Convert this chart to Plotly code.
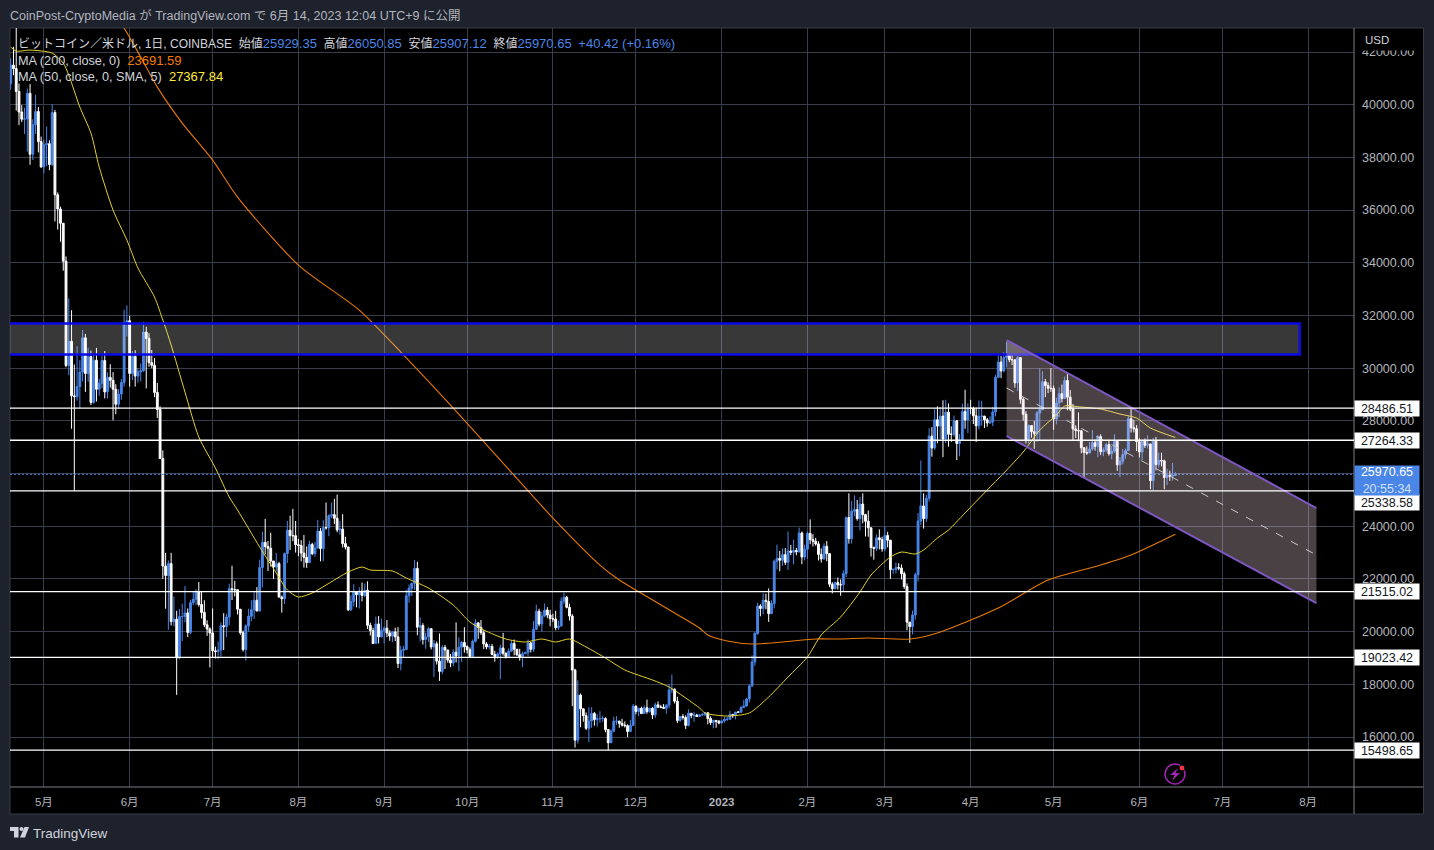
import pandas as pd
import plotly.graph_objects as go

FIRST_OPEN = 40800
closes_2022 = [
 41500,41370,40500,39720,39450,39460,40430,38120,39240,39740,38600,37640,
 38480,38520,37730,39700,36580,36040,35500,34060,30100,31020,28950,28920,29300,29850,31150,29800,30440,28700,30300,29200,29430,30290,29100,29650,29540,29200,28630,29020,29450,31730,31800,
 29800,30450,29700,29860,29900,31370,31130,30210,30110,29080,28430,26570,22490,22130,22580,20380,20470,19000,20570,20570,20710,19970,21100,21230,21500,21030,20730,20260,20100,19950,
 19270,19240,19300,20220,20190,20550,21630,21590,21590,20850,19960,19320,20220,20580,20830,21190,20780,22430,23390,23230,23160,22680,22450,22580,21310,21250,22960,23850,23640,23640,23300,
 23270,22980,22820,22620,23310,22960,23170,23810,23150,23950,23940,24400,24440,24300,23860,23890,23340,23210,20830,21140,21520,21400,21530,21370,21570,20240,20040,19550,20290,19800,20050,
 20130,19950,19830,19990,19800,18790,19290,19320,21360,21650,21830,22400,20170,20230,19700,19800,20110,19420,19540,18880,18490,19400,19300,18920,18810,19220,19080,19410,19590,19430,
 19310,19060,19630,20330,20160,19960,19530,19420,19440,19130,19060,19150,19380,19180,19060,19260,19550,19330,19120,19040,19160,19200,19570,19330,20090,20770,20290,20590,20820,20630,20490,
 20480,20150,20210,21150,21300,20920,20590,18540,15880,17590,17070,16810,16330,16610,16890,16660,16690,16700,16700,16280,15780,16220,16600,16600,16520,16450,16430,16210,16440,17170,
 16970,17090,16890,17110,16970,17090,16840,17220,17130,17130,17090,17210,17780,17810,17360,16630,16780,16740,16440,16900,16820,16830,16780,16840,16840,16920,16700,16550,16630,16600,16530]
closes_2023 = [
 16610,16670,16670,16850,16830,16950,16940,17120,17180,17440,17940,18850,19930,20970,20880,21190,21140,20680,21070,22670,22780,22710,22920,22630,23060,23010,23080,23030,23740,22830,23130,
 23730,23490,23430,23330,22930,22760,23240,22960,21800,21630,21860,21780,21780,22200,24330,23530,24570,24630,24290,24840,24440,24190,23940,23190,23160,23560,23490,23140,
 23650,23470,22350,22360,22430,22410,22200,21710,20360,20190,20630,22160,24200,24770,24290,25060,27420,26970,28040,27800,28180,27310,28330,27490,27490,28000,27140,27270,28350,28030,28480,
 28470,28190,27810,28170,28180,28040,27920,27950,28340,29650,30230,29890,30400,30490,30320,30320,29440,30400,28820,28250,27270,27820,27590,27510,28300,28420,29480,29340,29240,29230,
 28070,28680,29030,28850,29530,28900,28450,27690,27630,27620,26980,26800,26780,26930,27170,27030,27400,26830,26890,27100,26750,26850,27220,26330,26470,26720,26870,28080,27740,27700,27210,
 26820,27250,27070,27120,25730,27230,26340,26500,26480,25850,25930,25900,25930,25970.65]
highs_2022 = [
 41760,42200,42980,40800,39980,39880,40610,40780,39450,40380,39910,38790,
 38670,39170,38650,40020,39800,36670,36130,35510,34240,32650,32200,30140,30830,30300,31450,31300,30780,30670,30530,30770,29600,30480,30650,29840,30150,29850,29390,29200,29590,32220,32380,
 31990,30650,30680,30000,30180,31760,31570,31330,30690,30380,29440,28550,26880,22990,22700,22990,21330,20790,20860,21060,21730,20880,21210,21530,21610,21880,21510,21190,20430,20160,
 20880,19430,19620,20350,20700,20670,21820,22500,21930,21600,20860,20040,20270,20870,21190,21550,21690,22730,23800,24280,23440,23750,22680,22990,22650,21370,23000,24200,24400,24660,24200,
 23520,23470,23670,23230,23450,23370,23400,24240,23930,24230,24900,24450,24900,25040,25200,24200,24460,23600,23220,21380,21800,21520,21680,21860,21820,21910,20340,20150,20570,20590,20490,
 20200,20440,20050,20030,20150,20170,19460,19450,21590,21790,21860,22720,22650,20540,20320,19960,20170,20100,19680,19630,19930,19480,19490,19310,19150,19330,20350,19780,19640,20170,
 19480,19400,19700,20470,20370,20440,20050,19600,19530,19530,19270,19210,19500,19950,19210,19360,19680,19700,19340,19350,19240,19250,19700,19600,20400,21020,20870,20750,21070,20930,20830,
 20680,20790,20420,21300,21480,21360,21060,20670,18590,18150,17650,17060,16930,17130,17130,16950,16870,16980,16810,16750,16300,16290,16770,16790,16620,16690,16590,16480,16650,17250,
 17200,17100,17150,17200,17420,17100,17130,17300,17350,17220,17250,17240,18000,18370,17850,17530,16800,16870,16820,17050,16900,16950,16880,16870,16920,16950,16930,16780,16660,16630,16640]
highs_2023 = [
 16630,16770,16770,16990,16880,16950,16980,17170,17400,17490,18000,19100,19980,21100,21040,21460,21440,21640,21190,22730,23300,23060,23160,23170,23800,23290,23490,23180,23950,23800,23300,
 23800,24260,23700,23560,23430,23160,23350,23440,22980,21880,21900,22050,21980,22320,24370,25250,24960,25170,25000,25120,25250,24470,24600,23880,23230,23690,23880,23600,
 24000,23790,23480,22400,22620,22600,22550,22280,21830,20350,20800,22240,24500,26500,25250,25190,27720,27760,28470,28550,28530,28780,28800,28660,27790,28200,28030,27500,28650,29180,28660,
 28800,28540,28500,28770,28760,28190,28110,28170,28530,29750,30550,30460,30600,31000,30560,30530,30320,30480,30410,28900,28370,27860,27820,28000,28370,30000,29880,29590,29460,30000,
 29340,28880,29270,29380,29680,29850,29170,28640,27830,28320,27660,26890,27030,27200,27650,27290,27470,27490,26990,27170,27280,27050,27490,27220,26630,26930,26950,28200,28450,28040,27840,
 27340,27300,27330,27450,27130,27350,27390,26800,26790,26530,26180,26110,26400,26050.85]
lows_2022 = [
 40570,41120,39780,39230,39340,38890,38220,37720,37900,38890,38190,37600,
 37390,37670,37510,37670,35570,35260,34800,33700,30030,29730,27700,25338.58,28770,28480,29500,29100,29480,28600,28650,28730,28950,29240,28850,28850,29260,28020,28250,28450,28800,29300,31200,
 29300,29550,29300,29450,29500,29860,29230,30050,30000,28900,28110,26600,22000,20870,20070,20230,20200,17600,18950,19640,20350,19790,19900,21000,21000,20950,20500,20170,19840,18640,
 19000,18980,18950,19050,19300,19790,20240,21200,21340,20650,19880,19240,18900,20000,20390,20480,20780,20790,21680,22930,22300,22470,22000,22280,21300,20720,21050,22600,23100,23430,23000,
 22860,22670,22430,22420,22610,22900,22840,23160,22670,22670,23870,23620,24300,24080,23770,23680,23190,23120,20780,20780,20950,20920,20880,21150,21310,20100,19850,19550,19570,19550,19830,
 19550,19790,19650,19600,19640,18620,18530,19020,19300,21100,21350,21580,19860,19620,19510,19350,19600,19320,18280,18750,18130,18380,18580,18820,18650,18680,18830,18500,18850,19200,
 19170,19000,19050,19590,19730,19880,19340,19330,19320,19100,18860,18970,18190,19090,18980,19070,19220,19100,19080,18900,18650,19150,19060,19210,19230,20060,20200,20000,20550,20510,20200,
 20370,20050,20060,20200,21040,20880,20420,17170,15600,15750,16370,16580,16260,15810,16350,16430,16400,16540,16570,16180,15498.65,15850,16180,16460,16350,16400,16360,16000,16190,16420,
 16860,16790,16870,16890,16880,16910,16680,16730,17100,17090,17070,16880,17090,17660,17270,16530,16580,16660,16300,16400,16710,16580,16760,16790,16790,16800,16480,16460,16330,16350,16480]
lows_2023 = [
 16500,16540,16610,16660,16730,16670,16910,16920,17100,17150,17310,17900,18700,19880,20580,20650,20850,20370,20670,20880,22360,22290,22500,22530,22340,22900,22550,22900,23000,22560,22700,
 22760,23320,23230,23260,22700,22620,22730,22670,21690,21450,21600,21600,21360,21540,22070,23340,23340,24380,24210,23840,24110,23610,23600,22850,22730,23060,23120,23030,
 23050,23200,22000,22200,22210,22330,21980,21620,20050,19570,19900,20450,21900,24050,23910,24160,24940,26640,26900,27150,27300,26620,27150,27020,27200,27400,26510,26650,27250,27700,27530,
 28250,27880,27200,27670,27820,27730,27780,27880,27800,28170,29630,29620,29840,30030,30230,30120,29260,29120,28650,28010,27140,27130,27360,26940,27200,27250,28900,28900,29050,29100,
 27660,27870,28140,28700,28830,28400,28370,27270,27350,27230,26770,25820,26710,26770,26870,26870,26620,26700,26660,26800,26680,26540,26780,26100,25870,26350,26560,26870,27560,27560,26850,
 26610,26510,26970,26950,25400,25370,26120,26220,26270,25400,25560,25720,25730,25907.12]

ma50_dates = ["2022-04-19","2022-04-21","2022-04-26","2022-05-04","2022-05-08","2022-05-10","2022-05-14","2022-05-18","2022-05-21","2022-05-26","2022-05-31","2022-06-04","2022-06-10","2022-06-13","2022-06-14","2022-06-16","2022-06-21","2022-06-26","2022-07-02","2022-07-07","2022-07-10","2022-07-18","2022-07-24","2022-07-28","2022-08-01","2022-08-06","2022-08-11","2022-08-19","2022-08-24","2022-08-27","2022-09-04","2022-09-09","2022-09-17","2022-09-26","2022-10-02","2022-10-07","2022-10-15","2022-10-22","2022-10-28","2022-11-02","2022-11-07","2022-11-13","2022-11-20","2022-11-27","2022-12-07","2022-12-13","2022-12-24","2022-12-26","2023-01-03","2023-01-11","2023-01-18","2023-01-25","2023-02-01","2023-02-06","2023-02-13","2023-02-20","2023-02-24","2023-03-03","2023-03-07","2023-03-12","2023-03-15","2023-03-20","2023-03-24","2023-03-31","2023-04-07","2023-04-13","2023-04-20","2023-04-26","2023-05-02","2023-05-05","2023-05-11","2023-05-18","2023-05-25","2023-05-31","2023-06-05","2023-06-14"]
ma50_values = [42186,42034,42072,41958,41578,41123,39908,38922,37632,35999,34861,33799,32698,31825,31522,30876,29093,27385,26209,25108,24615,23210,22224,21579,21313,21465,21768,22262,22452,22338,22300,22034,21654,21009,20364,20061,19719,19605,19719,19605,19719,19416,18998,18543,18163,17898,17101,16911,16797,16911,17518,18277,19036,19871,20554,21503,22148,22831,23021,22945,23097,23552,23856,24615,25374,26019,26816,27651,28220,28561,28524,28448,28258,28106,27727,27367.84]
ma200_dates = ["2022-04-19","2022-05-30","2022-06-05","2022-06-11","2022-06-20","2022-07-01","2022-07-10","2022-08-01","2022-08-23","2022-09-07","2022-09-25","2022-10-13","2022-10-31","2022-11-18","2022-11-25","2022-12-01","2022-12-15","2022-12-24","2022-12-27","2023-01-03","2023-01-12","2023-01-23","2023-02-04","2023-02-13","2023-02-23","2023-03-10","2023-03-20","2023-04-11","2023-04-29","2023-05-18","2023-05-29","2023-06-14"]
ma200_values = [48900,42906,41806,40667,39301,37897,36493,33913,32205,30611,28599,26512,24425,22527,21958,21579,20706,20137,19871,19643,19529,19605,19719,19719,19757,19719,19947,20896,21958,22527,22907,23691.59]

level_prices = [28486.51, 27264.33, 25338.58, 21515.02, 19023.42, 15498.65]
last_price = 25970.65
y_ticks = list(range(16000, 44000, 2000))
month_dates = ["2022-05-01","2022-06-01","2022-07-01","2022-08-01","2022-09-01","2022-10-01","2022-11-01","2022-12-01","2023-01-01","2023-02-01","2023-03-01","2023-04-01","2023-05-01","2023-06-01","2023-07-01","2023-08-01"]
month_labels = ["5月","6月","7月","8月","9月","10月","11月","12月","<b>2023</b>","2月","3月","4月","5月","6月","7月","8月"]
zone_start, zone_end, zone_low, zone_high = "2022-01-01", "2023-07-29", 30516, 31693
chan_start, chan_end = "2023-04-14", "2023-08-04"
chan_top, chan_mid, chan_bottom = (31066, 24691), (29245, 22907), (27423, 21085)

BG, GRID, TXT, BLUE = "#1e222d", "#393c4b", "#b2b5be", "#4a86e8"
FONT = "Liberation Sans, Noto Sans CJK JP, sans-serif"
px = lambda x: (x - 10) / 1344
py = lambda y: (787 - y) / 759

closes = closes_2022 + closes_2023
highs = highs_2022 + highs_2023
lows = lows_2022 + lows_2023
opens = [FIRST_OPEN] + closes[:-1]      # 24h market: each day opens at the prior close
dates = pd.date_range("2022-04-19", periods=len(closes), freq="D")

fig = go.Figure()
fig.add_trace(go.Candlestick(x=dates, open=opens, high=highs, low=lows, close=closes,
    increasing=dict(line=dict(color=BLUE, width=1), fillcolor=BLUE),
    decreasing=dict(line=dict(color="#ffffff", width=1), fillcolor="#ffffff"),
    whiskerwidth=0, showlegend=False, hoverinfo="skip"))
fig.add_trace(go.Scatter(x=ma200_dates, y=ma200_values, mode="lines", line=dict(color="#e87a05", width=1.1, shape="spline", smoothing=0.7), showlegend=False, hoverinfo="skip"))
fig.add_trace(go.Scatter(x=ma50_dates, y=ma50_values, mode="lines", line=dict(color="#e6d22c", width=1, shape="spline", smoothing=0.7), showlegend=False, hoverinfo="skip"))

shapes = [
    dict(type="rect", xref="paper", yref="paper", x0=0, x1=px(1423.5), y0=py(814), y1=py(28), fillcolor="#000000", line=dict(color="#363a45", width=1), layer="below"),
    dict(type="line", xref="paper", yref="paper", x0=1, x1=1, y0=py(814), y1=py(28), line=dict(color="#7d7d85", width=1)),
    dict(type="line", xref="paper", yref="paper", x0=0, x1=px(1423.5), y0=0, y1=0, line=dict(color="#7d7d85", width=1)),
    dict(type="line", xref="paper", x0=0, x1=1, y0=last_price, y1=last_price, line=dict(color=BLUE, width=1, dash="2px,2px")),
    dict(type="rect", x0=zone_start, x1=zone_end, y0=zone_low, y1=zone_high, fillcolor="rgba(255,255,255,0.22)", line=dict(color="#0a0ae6", width=2.5)),
    dict(type="path", path=f"M {chan_start} {chan_top[0]} L {chan_end} {chan_top[1]} L {chan_end} {chan_bottom[1]} L {chan_start} {chan_bottom[0]} Z",
         fillcolor="rgba(255,224,234,0.29)", line=dict(width=0)),
    dict(type="line", x0=chan_start, x1=chan_end, y0=chan_top[0], y1=chan_top[1], line=dict(color="#7e57c2", width=2)),
    dict(type="line", x0=chan_start, x1=chan_end, y0=chan_bottom[0], y1=chan_bottom[1], line=dict(color="#7e57c2", width=2)),
    dict(type="line", x0=chan_start, x1=chan_end, y0=chan_mid[0], y1=chan_mid[1], line=dict(color="#c8c8c8", width=1, dash="8px,9px")),
]
for p in level_prices:
    shapes.append(dict(type="line", xref="paper", x0=0, x1=1, y0=p, y1=p, line=dict(color="#ffffff", width=1.3)))

# decorations: bolt icon and TradingView mark
shapes += [
    dict(type="circle", xref="paper", yref="paper", x0=px(1165), x1=px(1185), y0=py(784), y1=py(764), line=dict(color="#9c27b0", width=1.5)),
    dict(type="path", xref="paper", yref="paper", fillcolor="#9c27b0", line=dict(width=0),
         path=f"M {px(1178)} {py(768)} L {px(1170)} {py(775)} L {px(1174.5)} {py(775)} L {px(1172)} {py(781)} L {px(1180)} {py(773)} L {px(1175.5)} {py(773)} Z"),
    dict(type="circle", xref="paper", yref="paper", x0=px(1179), x1=px(1185), y0=py(771), y1=py(765), fillcolor="#f23645", line=dict(color="#000000", width=1)),
    dict(type="path", xref="paper", yref="paper", fillcolor="#d1d4dc", line=dict(width=0),
         path=f"M {px(10)} {py(827)} L {px(18.5)} {py(827)} L {px(18.5)} {py(837.5)} L {px(14)} {py(837.5)} L {px(14)} {py(831)} L {px(10)} {py(831)} Z"),
    dict(type="circle", xref="paper", yref="paper", fillcolor="#d1d4dc", line=dict(width=0), x0=px(19.5), x1=px(23.5), y0=py(831), y1=py(827)),
    dict(type="path", xref="paper", yref="paper", fillcolor="#d1d4dc", line=dict(width=0),
         path=f"M {px(24.5)} {py(827)} L {px(29)} {py(827)} L {px(25)} {py(837.5)} L {px(20)} {py(837.5)} Z"),
]

def note(text, x, y, size=12, color=TXT, **kw):
    return dict(text=text, xref="paper", yref="paper", x=px(x), y=py(y), xanchor="left", yanchor="middle",
                showarrow=False, font=dict(family=FONT, size=size, color=color), **kw)

v = lambda s: f"<span style='color:{BLUE};font-size:13px'>{s}</span>"
nb = "\u00a0"
LEG = "#d1d4dc"
annotations = [
    note("CoinPost-CryptoMedia が TradingView.com で 6月 14, 2023 12:04 UTC+9 に公開", 8, 15, size=12.5),
    note(f"ビットコイン／米ドル, 1日, COINBASE{nb}{nb}始値{v('25929.35')}{nb}{nb}高値{v('26050.85')}{nb}{nb}安値{v('25907.12')}{nb}{nb}終値{v('25970.65')}{nb}{nb}{v('+40.42 (+0.16%)')}", 16, 43, size=12, color=LEG),
    note(f"MA (200, close, 0){nb}{nb}<span style='color:#f57c00;font-size:13px'>23691.59</span>", 16, 60, size=12.7, color=LEG),
    note(f"MA (50, close, 0, SMA, 5){nb}{nb}<span style='color:#ffeb3b;font-size:13px'>27367.84</span>", 16, 76.5, size=12.7, color=LEG),
    note("TradingView", 31, 833, size=13.5, color="#d1d4dc"),
    note("USD", 1360, 40, size=11.5, color="#d1d4dc", bgcolor="#000000", borderpad=4, width=50, align="left"),
]
for p in level_prices:
    annotations.append(dict(text=f"{p:.2f}", xref="paper", yref="y", x=1, y=p, yshift=-12 if p == 25338.58 else 0,
        xanchor="left", yanchor="middle", showarrow=False, bgcolor="#ffffff", width=62, height=13, borderpad=1,
        font=dict(family=FONT, size=12.5, color="#131722")))
annotations.append(dict(text=f"{last_price:.2f}<br><span style='color:#d0e0fa'>20:55:34</span>", xref="paper", yref="y", x=1, y=last_price,
    yshift=-6.5, xanchor="left", yanchor="middle", showarrow=False, bgcolor=BLUE, width=62, height=27, borderpad=1,
    font=dict(family=FONT, size=12.5, color="#ffffff")))

fig.update_layout(
    width=1434, height=850, margin=dict(l=10, r=80, t=28, b=63), boxgap=0.05,
    paper_bgcolor=BG, plot_bgcolor="#000000", shapes=shapes, annotations=annotations,
    font=dict(family=FONT, size=12, color=TXT),
    xaxis=dict(type="date", range=["2022-04-18 18:00", "2023-08-17 14:00"], rangeslider=dict(visible=False),
               tickmode="array", tickvals=month_dates, ticktext=month_labels, showgrid=True, gridcolor=GRID, gridwidth=1,
               ticks="", showline=False, zeroline=False, tickfont=dict(family=FONT, size=11.5, color=TXT), ticklabelstandoff=6),
    yaxis=dict(side="right", range=[14102, 42911], tickmode="array", tickvals=y_ticks, ticktext=[f"{t:.2f}" for t in y_ticks],
               showgrid=True, gridcolor=GRID, gridwidth=1, ticks="", showline=False, zeroline=False,
               tickfont=dict(family=FONT, size=12.5, color=TXT), ticklabelstandoff=7),
)
fig.write_html("out.html", config=dict(displayModeBar=False), post_script="document.body.style.margin='0';document.documentElement.style.background='#1e222d';")
